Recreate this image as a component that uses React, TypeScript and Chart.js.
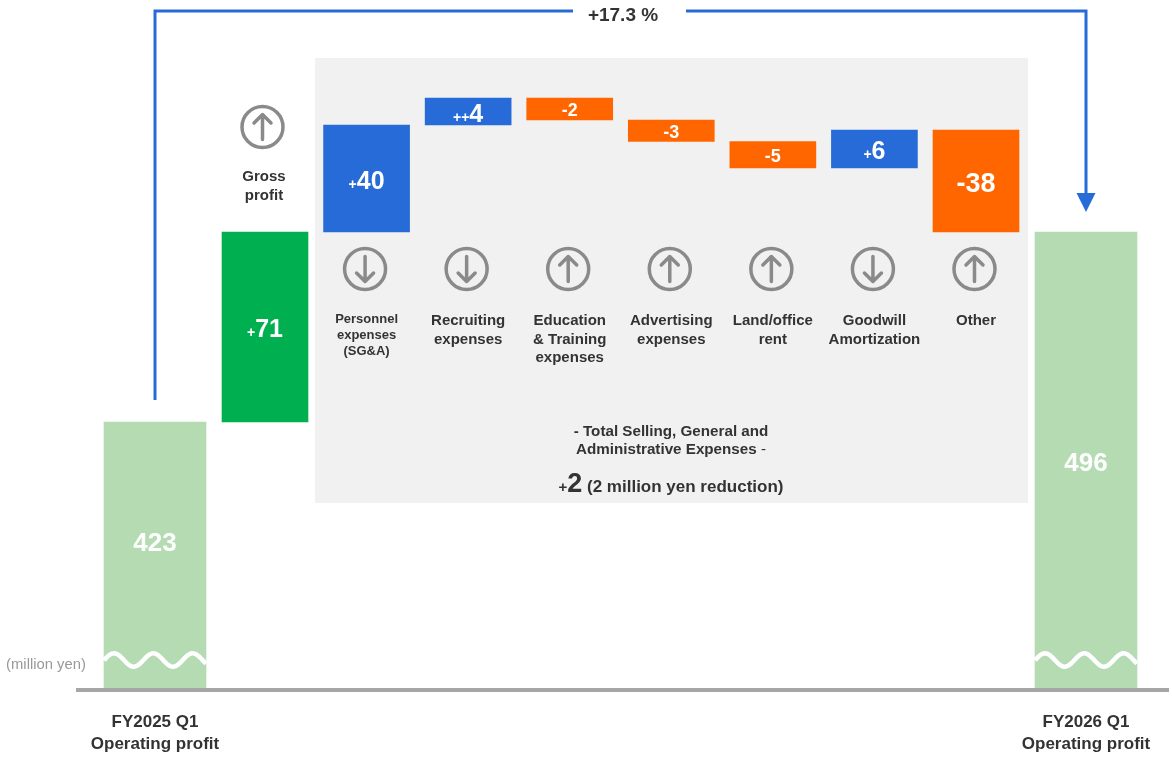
import { useEffect, useRef } from "react";
import { Chart, BarController, BarElement, CategoryScale, LinearScale } from "chart.js";

// Operating profit bridge, million yen
const categoryLines: string[][] = [
  ["FY2025 Q1", "Operating profit"],
  ["Gross", "profit"],
  ["Personnel", "expenses", "(SG&A)"],
  ["Recruiting", "expenses"],
  ["Education", "& Training", "expenses"],
  ["Advertising", "expenses"],
  ["Land/office", "rent"],
  ["Goodwill", "Amortization"],
  ["Other"],
  ["FY2026 Q1", "Operating profit"],
];
const totals: (number | null)[] = [423, null, null, null, null, null, null, null, null, 496];
const deltas: (number | null)[] = [null, 71, 40, 4, -2, -3, -5, 6, -38, null];
// Running total at the foot of each step; the last two carry a rounding remainder.
const stepStarts: (number | null)[] = [null, 423, 494, 534, 538, 536, 533, 527.6, 533.6, null];
const deltaPrefixes: string[] = ["", "+", "+", "++", "", "", "", "+", "", ""];
const profitDirection: string[] = ["", "up", "down", "down", "up", "up", "up", "down", "up", ""];

const FONT = '"Liberation Sans", Arial, sans-serif';
const INK = "#333333";
const BLUE = "#266bd7";
const ORANGE = "#ff6600";
const GREEN = "#00b050";
const PALE_GREEN = "#b5dbb3";
const ICON_GREY = "#8a8a8a";

// The value axis is broken and stretched so small steps stay legible:
// [value, height above the baseline].
const axisKnots: [number, number][] = [
  [0, 0], [423, 268], [494, 458], [496, 458], [527.6, 522], [528, 522],
  [533, 548.5], [533.6, 560], [534, 565], [536, 570], [538, 592], [600, 690],
];

class BrokenValueScale extends LinearScale {
  static id = "brokenValue";
  static defaults = LinearScale.defaults;
  getPixelForValue(value: number) {
    for (let i = 1; i < axisKnots.length; i++) {
      const [v0, h0] = axisKnots[i - 1];
      const [v1, h1] = axisKnots[i];
      if (value <= v1) return this.bottom - (h0 + ((value - v0) / (v1 - v0)) * (h1 - h0));
    }
    return this.top;
  }
}

// Category axis that leaves a wider step around the two closing totals.
const EDGE_LEFT = 77;
const EDGE_RIGHT = 82;
const OUTER_STEP = 1.083;

class BridgeCategoryScale extends CategoryScale {
  static id = "bridgeCategory";
  static defaults = CategoryScale.defaults;
  getPixelForValue(value: any) {
    const i = typeof value === "number" ? value : (this as any).parse(value);
    const last = categoryLines.length - 1;
    const step = (this.width - EDGE_LEFT - EDGE_RIGHT) / (2 * OUTER_STEP + last - 2);
    const units = i <= 0 ? 0 : i >= last ? 2 * OUTER_STEP + last - 2 : OUTER_STEP + (i - 1);
    return this.left + EDGE_LEFT + units * step;
  }
}

Chart.register(BarController, BarElement, BridgeCategoryScale, BrokenValueScale);

type Run = { text: string; size: number; weight?: string };

function drawRuns(ctx: CanvasRenderingContext2D, runs: Run[], cx: number, y: number, color: string) {
  ctx.fillStyle = color;
  ctx.textBaseline = "alphabetic";
  ctx.textAlign = "left";
  const fontOf = (r: Run) => `${r.weight ?? "bold"} ${r.size}px ${FONT}`;
  let width = 0;
  for (const r of runs) {
    ctx.font = fontOf(r);
    width += ctx.measureText(r.text).width;
  }
  let x = cx - width / 2;
  for (const r of runs) {
    ctx.font = fontOf(r);
    ctx.fillText(r.text, x, y);
    x += ctx.measureText(r.text).width;
  }
}

function drawArrowIcon(ctx: CanvasRenderingContext2D, cx: number, cy: number, dir: string) {
  const s = dir === "up" ? 1 : -1;
  ctx.strokeStyle = ICON_GREY;
  ctx.lineWidth = 3.5;
  ctx.lineCap = "round";
  ctx.lineJoin = "round";
  ctx.beginPath();
  ctx.arc(cx, cy, 20.5, 0, Math.PI * 2);
  ctx.stroke();
  ctx.beginPath();
  ctx.moveTo(cx, cy + s * 12.5);
  ctx.lineTo(cx, cy - s * 12.5);
  ctx.moveTo(cx - 8.5, cy - s * 4);
  ctx.lineTo(cx, cy - s * 12.5);
  ctx.lineTo(cx + 8.5, cy - s * 4);
  ctx.stroke();
  ctx.lineCap = "butt";
}

function drawBreak(ctx: CanvasRenderingContext2D, cx: number, y: number) {
  ctx.strokeStyle = "#ffffff";
  ctx.lineWidth = 4.5;
  ctx.beginPath();
  for (let dx = -51; dx <= 51; dx++) {
    const py = y - 6.7 * Math.cos((2 * Math.PI * (dx + 41)) / 39.3);
    if (dx === -51) ctx.moveTo(cx + dx, py);
    else ctx.lineTo(cx + dx, py);
  }
  ctx.stroke();
}

const panelPlugin = {
  id: "sgaPanel",
  beforeDatasetsDraw(chart: any) {
    const { ctx } = chart;
    ctx.save();
    ctx.fillStyle = "#f1f1f1";
    ctx.fillRect(315, 58, 713, 445);
    ctx.restore();
  },
};

const annotationPlugin = {
  id: "bridgeAnnotations",
  afterDatasetsDraw(chart: any) {
    const { ctx, scales } = chart;
    const x = scales.x;
    const y = scales.y;
    const last = categoryLines.length - 1;
    ctx.save();

    // Connector from the first total to the last, with the growth rate on it
    const left = x.getPixelForValue(0);
    const right = x.getPixelForValue(last);
    ctx.strokeStyle = BLUE;
    ctx.lineWidth = 3;
    ctx.beginPath();
    ctx.moveTo(left, 400);
    ctx.lineTo(left, 11);
    ctx.lineTo(573, 11);
    ctx.moveTo(686, 11);
    ctx.lineTo(right, 11);
    ctx.lineTo(right, 195);
    ctx.stroke();
    ctx.fillStyle = BLUE;
    ctx.beginPath();
    ctx.moveTo(right - 9.5, 193);
    ctx.lineTo(right + 9.5, 193);
    ctx.lineTo(right, 212);
    ctx.closePath();
    ctx.fill();
    drawRuns(ctx, [{ text: "+17.3 %", size: 19 }], 623, 21, INK);

    // Axis breaks and closing totals
    [0, last].forEach((i) => {
      const px = x.getPixelForValue(i);
      drawBreak(ctx, px, 660);
    });
    drawRuns(ctx, [{ text: String(totals[0]), size: 26 }], left, 551, "#ffffff");
    drawRuns(ctx, [{ text: String(totals[last]), size: 26 }], right, 471, "#ffffff");

    drawRuns(ctx, [{ text: "(million yen)", size: 14.8, weight: "normal" }], 46, 669, "#999999");

    // Step values, centred in their bars
    deltas.forEach((d, i) => {
      if (d === null) return;
      const start = stepStarts[i] as number;
      const mid = (y.getPixelForValue(start) + y.getPixelForValue(start + d)) / 2;
      const cx = x.getPixelForValue(i);
      const mag = Math.abs(d);
      let runs: Run[];
      if (d < 0) {
        runs = [{ text: String(d), size: mag >= 10 ? 27 : 18 }];
      } else {
        runs = [{ text: deltaPrefixes[i], size: 14 }, { text: String(d), size: 25 }];
      }
      const size = d < 0 ? (mag >= 10 ? 27 : 18) : 25;
      drawRuns(ctx, runs, cx, mid + size * 0.36 + 1, "#ffffff");
    });

    // Direction icons and step names
    categoryLines.forEach((lines, i) => {
      if (i === 0 || i === last) return;
      const cx = x.getPixelForValue(i);
      if (i === 1) {
        drawArrowIcon(ctx, cx - 2.5, 127, profitDirection[i]);
        lines.forEach((t, n) => drawRuns(ctx, [{ text: t, size: 15 }], cx - 1, 181 + n * 18.5, INK));
        return;
      }
      drawArrowIcon(ctx, cx - 1.5, 269, profitDirection[i]);
      const small = i === 2;
      lines.forEach((t, n) =>
        drawRuns(
          ctx,
          [{ text: t, size: small ? 13 : 15 }],
          cx,
          small ? 323 + n * 16 : 325 + n * 18.5,
          INK,
        ),
      );
    });

    // SG&A summary
    drawRuns(ctx, [{ text: "- Total Selling, General and", size: 15.2 }], 671, 436, INK);
    drawRuns(
      ctx,
      [
        { text: "Administrative Expenses ", size: 15.2 },
        { text: "-", size: 15.2, weight: "normal" },
      ],
      671,
      454,
      INK,
    );
    drawRuns(
      ctx,
      [
        { text: "+", size: 15 },
        { text: "2", size: 27 },
        { text: " (2 million yen reduction)", size: 17 },
      ],
      671,
      492,
      INK,
    );
    ctx.restore();
  },
};

export default function App() {
  const canvasRef = useRef<HTMLCanvasElement>(null);

  useEffect(() => {
    if (!canvasRef.current) return;
    const chart = new Chart(canvasRef.current, {
      type: "bar",
      data: {
        labels: categoryLines,
        datasets: [
          {
            label: "Operating profit",
            data: totals,
            backgroundColor: PALE_GREEN,
            barThickness: 102,
            grouped: false,
          },
          {
            label: "Change",
            data: deltas.map((d, i) => (d === null ? null : [stepStarts[i], (stepStarts[i] as number) + d])),
            backgroundColor: deltas.map((d, i) =>
              i === 1 ? GREEN : d !== null && d > 0 ? BLUE : ORANGE,
            ),
            barThickness: 86,
            grouped: false,
          },
        ],
      } as any,
      options: {
        animation: false,
        responsive: false,
        events: [],
        layout: { padding: { left: 78, right: 4, top: 0, bottom: 0 } },
        plugins: { legend: { display: false }, tooltip: { enabled: false } },
        scales: {
          x: {
            type: "bridgeCategory",
            grid: { display: false },
            border: { display: true, color: "#a6a6a6", width: 4, z: 1 },
            afterFit: (scale: any) => {
              scale.height = 67;
            },
            ticks: {
              autoSkip: false,
              maxRotation: 0,
              minRotation: 0,
              padding: 13,
              color: INK,
              font: { family: FONT, size: 17, weight: "bold", lineHeight: 1.3 },
              callback(this: any, value: any, index: number) {
                return index === 0 || index === categoryLines.length - 1
                  ? this.getLabelForValue(value)
                  : "";
              },
            },
          },
          y: {
            type: "brokenValue",
            display: false,
            min: 0,
            max: 600,
          },
        },
      } as any,
      plugins: [panelPlugin, annotationPlugin],
    });
    return () => chart.destroy();
  }, []);

  return (
    <div style={{ position: "absolute", left: 0, top: 0, width: 1172, height: 757 }}>
      <canvas ref={canvasRef} width={1172} height={757} style={{ display: "block" }} />
    </div>
  );
}
